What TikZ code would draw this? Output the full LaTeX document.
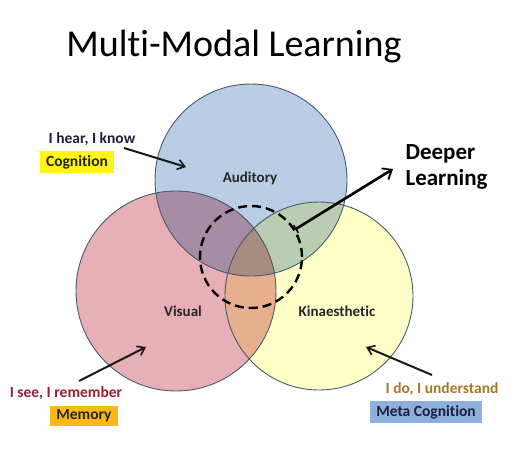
\documentclass[tikz,border=0pt]{standalone}
\usepackage{fontspec}
\setmainfont[Ligatures=NoCommon]{Carlito}
\usetikzlibrary{arrows.meta}
\definecolor{cblue}{RGB}{185,205,229}
\definecolor{cpink}{RGB}{230,176,182}
\definecolor{cyell}{RGB}{255,255,200}
\definecolor{cline}{RGB}{75,88,110}
\definecolor{navy}{RGB}{30,30,60}
\definecolor{dred}{RGB}{150,30,50}
\definecolor{gold}{RGB}{165,120,40}
\definecolor{byell}{RGB}{255,245,20}
\definecolor{borange}{RGB}{250,185,20}
\definecolor{bblue}{RGB}{140,175,220}
\tikzset{
  venn/.style={draw=cline, line width=0.9pt},
  lbl/.style={font=\fontsize{15}{18}\selectfont\bfseries, text=black!85},
  saying/.style={font=\fontsize{15.5}{18}\selectfont\bfseries},
  tagbox/.style={font=\fontsize{15.5}{18}\selectfont\bfseries, text=black!85, inner xsep=6pt, inner ysep=4pt},
  pointer/.style={-{Straight Barb[length=7pt,width=10pt,line width=1.6pt]}, line width=2pt, black!90},
}
\begin{document}
\begin{tikzpicture}[x=1pt,y=-1pt]
\useasboundingbox (0,0) rectangle (532,471);
\node[font=\fontsize{38}{44}\selectfont, anchor=center] (title) at (234,47) {Multi-Modal Learning};
\begin{scope}[blend mode=multiply]
\fill[cblue] (251,180) circle (96);
\fill[cpink] (176,291) circle (100);
\fill[cyell] (319,296) circle (94);
\end{scope}
\draw[venn] (251,180) circle (96);
\draw[venn] (176,291) circle (100);
\draw[venn] (319,296) circle (94);
\node[circle, minimum size=102pt, inner sep=0pt, draw=black, line width=2.4pt, dash pattern=on 9pt off 5pt] (core) at (251,257) {};
\node[lbl] (aud) at (250,178) {Auditory};
\node[lbl] (vis) at (183,311) {Visual};
\node[lbl] (kin) at (337,311) {Kinaesthetic};
\node[font=\fontsize{23}{26}\selectfont\bfseries, align=left, anchor=west] (deep) at (402,167) {Deeper\\Learning};
\coordinate (dtip) at (393,169);
\draw[line width=2.6pt, {Bar[width=9pt,line width=1.5pt]}-{Straight Barb[length=8pt,width=13pt,line width=1.8pt]}] (core.32) -- (dtip);
\node[saying, text=navy] (hear) at (92,139) {I hear, I know};
\node[tagbox, fill=byell] (cog) at (77,162) {Cognition};
\coordinate (c1s) at (124,148);
\coordinate (c1e) at (186,167);
\draw[pointer] (c1s) -- (c1e);
\node[saying, text=dred] (see) at (66,393) {I see, I remember};
\node[tagbox, fill=borange] (mem) at (84,416) {Memory};
\coordinate (c2s) at (79,381);
\coordinate (c2e) at (146,347);
\draw[pointer] (c2s) -- (c2e);
\node[saying, text=gold] (do) at (442,389) {I do, I understand};
\node[tagbox, fill=bblue, text=navy] (meta) at (426,412) {Meta Cognition};
\coordinate (c3s) at (432,375);
\coordinate (c3e) at (366,347);
\draw[pointer] (c3s) -- (c3e);
\end{tikzpicture}
\end{document}
